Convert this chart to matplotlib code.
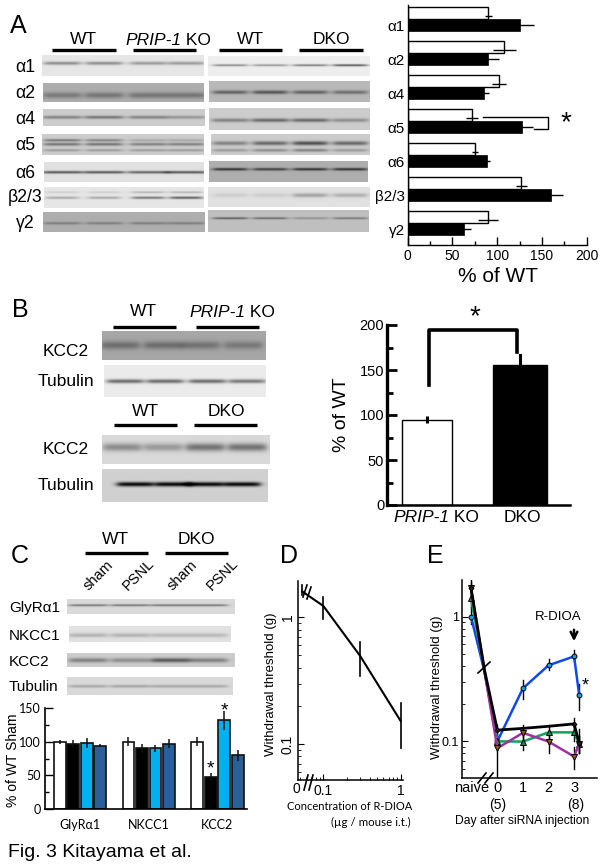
import numpy as np
import matplotlib
matplotlib.use('Agg')
import matplotlib.pyplot as plt
from matplotlib.ticker import LogLocator, NullFormatter, FixedLocator

W, H = 600, 867
plt.rcParams['font.family'] = ['Liberation Sans', 'DejaVu Sans']
CALIBRI = ['Lato', 'Open Sans', 'DejaVu Sans']

# panel A
subunits = ['α1', 'α2', 'α4', 'α5', 'α6', 'β2/3', 'γ2']
prip_ko = [90, 108, 102, 72, 75, 127, 90]
prip_ko_err = [4, 13, 8, 7, 3, 6, 11]
dko = [125, 90, 85, 128, 89, 160, 63]
dko_err = [16, 12, 6, 12, 3, 14, 8]

# panel B
kcc2_means = [95, 156]
kcc2_errs = [4, 11]

# panel C
c_groups = ['GlyRα1', 'NKCC1', 'KCC2']
wt_sham = [99, 100, 100]
wt_sham_err = [3, 7, 7]
wt_psnl = [97, 90, 48]
wt_psnl_err = [5, 7, 6]
dko_sham = [98, 90, 132]
dko_sham_err = [7, 5, 14]
dko_psnl = [94, 97, 80]
dko_psnl_err = [2, 7, 8]

# panel D
doses = [0.0535, 0.1, 0.3, 1]
thresh = [1.6, 1.23, 0.495, 0.152]
thresh_low = [1.5, 0.97, 0.346, 0.0925]
thresh_high = [1.8, 1.44, 0.64, 0.209]

# panel E, second x value is the kink at the axis break
days = [-1.03, -0.5, 0, 1, 2, 3, 3.2]
blue_y = [1.0, 0.36, 0.1, 0.266, 0.407, 0.48, 0.236]
blue_low = [0.88, None, 0.09, 0.22, 0.37, 0.44, 0.178]
blue_high = [1.2, None, 0.11, 0.31, 0.46, 0.54, 0.288]
green_y = [1.4, 0.36, 0.1, 0.0995, 0.118, 0.118, 0.095]
green_low = [1.2, None, 0.09, 0.085, 0.1, 0.1, 0.08]
green_high = [1.6, None, 0.115, 0.118, 0.135, 0.14, 0.11]
purple_y = [1.69, 0.36, 0.088, 0.117, 0.0995, 0.0755, 0.095]
purple_low = [1.5, None, 0.0505, 0.095, 0.08, 0.06, 0.08]
purple_high = [1.9, None, 0.1, 0.135, 0.118, 0.09, 0.11]
black_y = [1.69, 0.37, 0.123, 0.127, 0.132, 0.138, 0.097]
black_low = [1.4, None, 0.11, None, None, 0.12, 0.08]
black_high = [1.95, None, 0.135, None, None, 0.155, 0.125]

# blots: rect, background grey, lane centres, half width, bands (y, thickness, darkness per lane)
lanes_a1 = [62, 104, 148, 186]
lanes_a2 = [230, 270, 310, 350]
lanes_b1 = [120, 163, 200, 243]
lanes_b2 = [125, 165, 207, 247]
lanes_b3 = [122, 163, 205, 247]
lanes_b4 = [135, 173, 205, 242]
lanes_c = [88, 130, 170, 208]
blots = [
    ((42, 55, 204, 76), .90, lanes_a1, 18, [(63, 1.6, [.35, .35, .3, .3])]),
    ((43, 83, 204, 102), .68, lanes_a1, 19, [(95, 3, [.2, .22, .22, .22])]),
    ((43, 109, 205, 126), .80, lanes_a1, 19, [(117, 1.5, [.3, .35, .3, .22])]),
    ((42, 134, 204, 155), .80, lanes_a1, 18, [(140, 1.2, [.35, .3, .15, .15]), (144, 1.5, [.35, .35, .3, .3]), (150, 1.2, [.2, .2, .2, .2])]),
    ((44, 162, 204, 182), .88, lanes_a1, 20, [(172, 1.3, [.55, .55, .5, .55])]),
    ((44, 187, 204, 208), .90, lanes_a1, 16, [(192, 1, [.1, .1, .2, .2]), (197.5, 1.2, [.25, .25, .45, .55])]),
    ((43, 212, 205, 232), .68, lanes_a1, 18, [(223, 1.2, [.2, .2, .2, .2])]),
    ((208, 56, 370, 76), .93, lanes_a2, 17, [(65, 1, [.4, .35, .45, .6])]),
    ((209, 81, 370, 102), .72, lanes_a2, 17, [(92, 1.8, [.35, .4, .35, .3])]),
    ((209, 108, 370, 130), .80, lanes_a2, 18, [(120, 1.8, [.3, .4, .4, .25])]),
    ((211, 134, 370, 155), .80, lanes_a2, 17, [(143, 2, [.3, .4, .5, .4]), (150, 1.5, [.2, .25, .3, .2])]),
    ((209, 161, 368, 182), .68, lanes_a2, 17, [(169, 1.3, [.5, .45, .5, .5])]),
    ((208, 187, 370, 207), .88, lanes_a2, 17, [(195, 2, [.08, .08, .25, .2])]),
    ((208, 210, 369, 232), .75, lanes_a2, 17, [(218, 1, [.4, .35, .2, .3])]),
    ((102, 331, 266, 360), .65, lanes_b1, 19, [(345, 4, [.22, .22, .2, .18])]),
    ((104, 365, 266, 397), .92, lanes_b2, 18, [(381, 2, [.5, .5, .5, .45])]),
    ((102, 435, 270, 464), .85, lanes_b3, 19, [(447, 4, [.3, .25, .4, .4])]),
    ((102, 469, 268, 502), .82, lanes_b4, 18, [(484, 2.2, [.8, .8, .8, .8])]),
    ((67, 599, 235, 614), .85, lanes_c, 19, [(605, 1, [.4, .4, .4, .4])]),
    ((69, 626, 231, 642), .88, lanes_c, 19, [(635, 2, [.18, .18, .16, .16])]),
    ((67, 653, 235, 667), .80, lanes_c, 19, [(660, 2.2, [.3, .25, .45, .3])]),
    ((67, 677, 233, 695), .85, lanes_c, 19, [(686, 1.4, [.2, .22, .2, .2])]),
]


def px_axes(x0, y0, x1, y1):
    return fig.add_axes([x0 / W, 1 - y1 / H, (x1 - x0) / W, (y1 - y0) / H])


def clean(ax, lw=1.0):
    ax.spines['top'].set_visible(False)
    ax.spines['right'].set_visible(False)
    ax.spines['left'].set_linewidth(lw)
    ax.spines['bottom'].set_linewidth(lw)
    ax.patch.set_alpha(0)


def draw_blot(ax, rect, bg, lanes, hw, bands):
    x0, y0, x1, y1 = rect
    xs = np.arange(x0, x1, 0.5)
    ys = np.arange(y0, y1, 0.5)
    gx, gy = np.meshgrid(xs, ys)
    img = np.full(gx.shape, float(bg))
    for cy, thick, dark in bands:
        for lane, d in zip(lanes, dark):
            win = 0.5 * (np.tanh((gx - lane + hw) / 4) - np.tanh((gx - lane - hw) / 4))
            img -= d * win * np.exp(-((gy - cy) / thick) ** 2)
    ax.imshow(img, extent=(x0, x1, y1, y0), aspect='auto', cmap='gray', vmin=0, vmax=1,
              interpolation='bilinear', zorder=1)


def prip_label(ax, x, y, size):
    t = ax.text(x, y, 'PRIP-1', style='italic', fontsize=size, va='baseline', ha='left')
    ax.annotate(' KO', xy=(1, 0), xycoords=t, va='bottom', ha='left', fontsize=size)


fig = plt.figure(figsize=(W / 100, H / 100), dpi=100)

# A chart
ax = px_axes(407.7, 5, 586.7, 245)
clean(ax)
ypos = np.arange(len(subunits))
ax.barh(ypos - 0.18, prip_ko, 0.34, color='white', edgecolor='black', linewidth=1)
ax.barh(ypos + 0.17, dko, 0.36, color='black', edgecolor='black', linewidth=0.5)
ax.errorbar(prip_ko, ypos - 0.1, xerr=prip_ko_err, fmt='none', ecolor='black', elinewidth=1, capsize=0)
ax.errorbar(dko, ypos + 0.17, xerr=dko_err, fmt='none', ecolor='black', elinewidth=1, capsize=0)
ax.plot([84, 156.4, 156.4, 141.5], [2.87, 2.87, 3.235, 3.235], color='black', lw=1)
ax.set_xlim(0, 200)
ax.set_ylim(6.65, -0.41)
ax.set_xticks([0, 50, 100, 150, 200])
ax.set_xticks([25, 75, 125, 175], minor=True)
ax.set_yticks(ypos + 0.2, subunits, fontsize=11)
ax.tick_params(axis='x', direction='in', length=6, width=1, labelsize=10, pad=3)
ax.tick_params(axis='x', which='minor', direction='in', length=3, width=1)
ax.tick_params(axis='y', length=0, pad=2)

# B chart
ax = px_axes(387, 325, 570, 505)
clean(ax)
ax.spines['left'].set_linewidth(2.4)
ax.spines['bottom'].set_linewidth(1.8)
ax.bar([0, 1], kcc2_means, [0.54, 0.58], color=['white', 'black'], edgecolor='black', linewidth=1)
ax.errorbar([0], kcc2_means[0], yerr=kcc2_errs[0], fmt='none', ecolor='black', elinewidth=2.2)
ax.plot([1, 1], [kcc2_means[1], kcc2_means[1] + kcc2_errs[1]], color='black', lw=2.2)
ax.plot([0.02, 0.02, 0.97, 0.97], [133, 195, 195, 170], color='black', lw=2.6)
ax.text(0.52, 209, '*', fontsize=20, ha='center', va='center')
ax.set_xlim(-0.43, 1.54)
ax.set_ylim(0, 200)
ax.set_xticks([])
ax.set_yticks([0, 50, 100, 150, 200])
ax.set_yticks([25, 75, 125, 175], minor=True)
ax.tick_params(axis='y', direction='in', length=7, width=2, labelsize=10.5, pad=2)
ax.tick_params(axis='y', which='minor', direction='in', length=4, width=2)

# C chart
ax = px_axes(45, 708, 247, 809)
clean(ax, 1.2)
xc = np.arange(len(c_groups))
step = 0.1965
series_c = [(wt_sham, wt_sham_err, 'white'), (wt_psnl, wt_psnl_err, 'black'),
            (dko_sham, dko_sham_err, '#00b0f0'), (dko_psnl, dko_psnl_err, '#2a6099')]
for i, (vals, errs, col) in enumerate(series_c):
    pos = xc + (i - 1.5) * step
    ax.bar(pos, vals, 0.17, color=col, edgecolor='#111111', linewidth=1.2)
    ax.errorbar(pos, vals, yerr=errs, fmt='none', ecolor='#111111', elinewidth=1.1)
ax.text(2 - 0.5 * step, 59, '*', fontsize=14, ha='center', va='center')
ax.text(2 + 0.5 * step, 146, '*', fontsize=14, ha='center', va='center')
ax.set_xlim(-0.51, 2.43)
ax.set_ylim(0, 150)
ax.set_xticks(xc, c_groups, fontsize=9, family=CALIBRI)
ax.set_yticks([0, 50, 100, 150])
ax.set_yticks([25, 75, 125], minor=True)
ax.tick_params(axis='x', length=0, pad=7)
ax.tick_params(axis='y', direction='in', length=6, width=1, labelsize=9, pad=3)
ax.tick_params(axis='y', which='minor', direction='in', length=3, width=1)
for lab in ax.get_yticklabels():
    lab.set_family(CALIBRI)

# D chart
ax = px_axes(297.7, 580.7, 403.3, 780)
clean(ax, 1.1)
ax.set_xscale('log')
ax.set_yscale('log')
ax.plot(doses, thresh, color='black', lw=1.5)
for x, lo, hi in zip(doses, thresh_low, thresh_high):
    ax.plot([x, x], [lo, hi], color='black', lw=1.2)
ax.set_xlim(0.0466, 1.083)
ax.set_ylim(0.052, 1.947)
ax.xaxis.set_major_locator(FixedLocator([0.1, 1]))
ax.yaxis.set_major_locator(FixedLocator([0.1, 1]))
ax.set_xticks([0.1, 1], ['0.1', '1'])
ax.set_yticks([0.1, 1], ['0.1', '1'])
for a in (ax.xaxis, ax.yaxis):
    a.set_minor_locator(LogLocator(base=10, subs=range(2, 10), numticks=10))
    a.set_minor_formatter(NullFormatter())
ax.tick_params(which='major', direction='in', length=4, width=0.8, labelsize=10)
ax.tick_params(which='minor', direction='in', length=2, width=0.6)
ax.tick_params(axis='y', labelrotation=90, pad=2)
for lab in ax.get_yticklabels():
    lab.set_va('center')
ax.tick_params(axis='x', pad=3)

# E chart
ax = px_axes(461.7, 580, 596.7, 778.3)
clean(ax, 1.1)
ax.set_yscale('log')
series_e = [
    (blue_y, blue_low, blue_high, '#1048f0', 1.8, 'o', '#1a9fd8', 3.5, [0, 2, 3, 4, 5, 6]),
    (green_y, green_low, green_high, '#12a05a', 1.8, '^', '#1a8a45', 4, [0, 2, 3, 4, 5, 6]),
    (purple_y, purple_low, purple_high, '#a030a0', 1.8, 'v', '#8a5a1a', 4, [0, 2, 3, 4, 5, 6]),
    (black_y, black_low, black_high, 'black', 2.0, 'D', '#222222', 2.5, [0, 2, 5, 6]),
]
for ys, lows, highs, col, lw, mk, face, ms, marks in series_e:
    ax.plot(days, ys, color=col, lw=lw, marker=mk, mfc=face, mec='black', mew=0.7, ms=ms,
            markevery=marks, zorder=3)
    for x, lo, hi in zip(days, lows, highs):
        if lo is not None:
            ax.plot([x, x], [lo, hi], color='black', lw=1, zorder=2)
ax.set_xlim(-1.395, 3.885)
ax.set_ylim(0.0505, 1.968)
ax.set_xticks([-1.0, 0, 1, 2, 3], ['naive', '0', '1', '2', '3'])
ax.set_yticks([0.1, 1], ['0.1', '1'])
ax.yaxis.set_minor_locator(LogLocator(base=10, subs=range(2, 10), numticks=10))
ax.yaxis.set_minor_formatter(NullFormatter())
ax.tick_params(axis='x', length=0, labelsize=10.5, pad=2)
ax.tick_params(axis='y', which='major', direction='in', length=4, width=0.8, labelsize=9, pad=2)
ax.tick_params(axis='y', which='minor', direction='in', length=2, width=0.6)

# overlay in pixel coordinates for blots, rules and labels
ov = fig.add_axes([0, 0, 1, 1], zorder=10)
ov.patch.set_alpha(0)
ov.axis('off')
for rect, bg, lanes, hw, bands in blots:
    draw_blot(ov, rect, bg, lanes, hw, bands)
ov.set_xlim(0, W)
ov.set_ylim(H, 0)

rules = [(52, 116, 50), (133, 196, 50), (219, 282, 50), (299, 363, 50),
         (113, 176, 327), (196, 259, 327), (114, 177, 425), (194, 257, 425),
         (85, 148, 553), (165, 228, 553)]
for x0, x1, y in rules:
    ov.plot([x0, x1], [y, y], color='black', lw=2.4, solid_capstyle='butt')

for s, x, y in [('A', 10, 33), ('B', 12, 317), ('C', 11, 563), ('D', 280, 563), ('E', 427, 563)]:
    ov.text(x, y, s, fontsize=18, va='baseline', ha='left')

for s, x, y in [('WT', 83, 39), ('WT', 250, 39), ('DKO', 331, 39), ('WT', 143, 311),
                ('WT', 145, 411), ('DKO', 226, 411), ('WT', 115, 539), ('DKO', 196, 539)]:
    ov.text(x, y, s, fontsize=12.5, ha='center', va='center')
prip_label(ov, 125, 45, 12.5)
prip_label(ov, 189, 317, 12.5)
prip_label(ov, 393, 522, 12.5)
ov.text(522, 517, 'DKO', fontsize=12.5, ha='center', va='center')

row_y = [67, 94, 119, 146, 173, 198, 223]
for s, y in zip(subunits, row_y):
    ov.text(25, y, s, fontsize=12.7, ha='center', va='center')
ov.text(498, 277, '% of WT', fontsize=15, ha='center', va='center')
ov.text(566, 123, '*', fontsize=20, ha='center', va='center')

for s, y in [('KCC2', 351), ('Tubulin', 381), ('KCC2', 449), ('Tubulin', 486)]:
    ov.text(66, y, s, fontsize=12.5, ha='center', va='center')
ov.text(341, 415, '% of WT', fontsize=14, rotation=90, ha='center', va='center')

for s, x in [('sham', 98), ('PSNL', 138), ('sham', 182), ('PSNL', 222)]:
    ov.text(x, 575, s, fontsize=10.5, rotation=45, ha='center', va='center')
for s, y in [('GlyRα1', 608), ('NKCC1', 636), ('KCC2', 662), ('Tubulin', 687)]:
    ov.text(9, y, s, fontsize=11, ha='left', va='center')
ov.text(13, 760, '% of WT Sham', fontsize=10, rotation=90, ha='center', va='center')

ov.text(8, 857, 'Fig. 3 Kitayama et al.', fontsize=14, ha='left', va='baseline')

ov.text(271, 684, 'Withdrawal threshold (g)', fontsize=9.5, rotation=90, ha='center', va='center')
ov.text(350, 807, 'Concentration of R-DIOA', fontsize=8, family=CALIBRI, ha='center', va='center')
ov.text(411, 822, '(µg / mouse i.t.)', fontsize=8.3, family=CALIBRI, ha='right', va='center')
ov.text(296, 789, '0', fontsize=10, ha='center', va='center')

ov.text(436.7, 687, 'Withdrawal threshold (g)', fontsize=9.5, rotation=90, ha='center', va='center')
ov.text(558, 617, 'R-DIOA', fontsize=9.5, ha='center', va='center')
ov.annotate('', xy=(574, 644), xytext=(574, 627),
            arrowprops=dict(arrowstyle='->', lw=1.8, color='black', mutation_scale=12))
ov.text(585, 686, '*', fontsize=13, ha='center', va='center')
ov.text(497.5, 805, '(5)', fontsize=10, ha='center', va='center')
ov.text(576, 805, '(8)', fontsize=10, ha='center', va='center')
ov.text(522, 821, 'Day after siRNA injection', fontsize=8.7, ha='center', va='center')

# axis break marks
breaks = [((303, 307), (597, 585)), ((307, 311), (599, 587)),
          ((304, 308), (790, 775)), ((309, 313), (790, 775)),
          ((478, 486), (783, 773)), ((485, 493), (783, 773)),
          ((478, 490), (673, 662))]
for xs, ys in breaks:
    ov.plot(xs, ys, color='black', lw=1.2)

fig.savefig('out.png', dpi=100)
